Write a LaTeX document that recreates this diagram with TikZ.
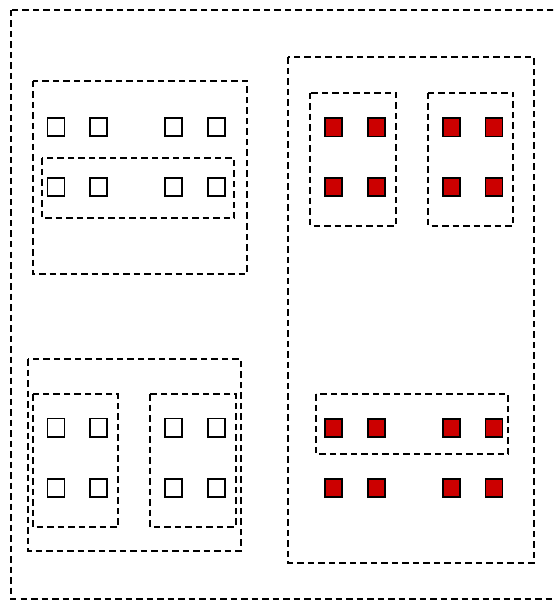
\documentclass[tikz,border=0pt]{standalone}
\usepackage{tikz}
\usetikzlibrary{positioning}
\definecolor{padred}{HTML}{CC0000}
\tikzset{>=latex}
\tikzset{pad/.style={draw=black, line width=1.7pt, fill=white,
  minimum width=17pt, minimum height=18.5pt, inner sep=0pt}}
\tikzset{redpad/.style={pad, fill=padred}}
\tikzset{group/.style={dashed, dash pattern=on 6.5pt off 4pt, line width=1.7pt}}

\begin{document}
\begin{tikzpicture}[x=1pt,y=-1pt]
  \useasboundingbox (0,0) rectangle (553,601);
  \clip (0,0) rectangle (553,601);
  % outer frame
  \draw[group] (11,10) rectangle (570,599);
  % top left
  \draw[group] (32.7,81) rectangle (246.7,274);
  \draw[group] (42,158.3) rectangle (234.3,218.3);
  % bottom left
  \draw[group] (27.7,359) rectangle (240.7,550.7);
  \draw[group] (32.7,394) rectangle (118.3,526.7);
  \draw[group] (150,394) rectangle (236,526.7);
  % right
  \draw[group] (288.3,57.3) rectangle (534.3,562.7);
  \draw[group] (310,92.7) rectangle (396,225.7);
  \draw[group] (428,92.7) rectangle (513.3,225.7);
  \draw[group] (316,394.3) rectangle (508.3,454);
  % pads
  \foreach \i/\x in {1/56,2/98.8,3/173.5,4/216.5} {
    \node[pad] (wa\i) at (\x,127) {};
    \node[pad] (wb\i) at (\x,187) {};
    \node[pad] (wc\i) at (\x,427.8) {};
    \node[pad] (wd\i) at (\x,488) {};
  }
  \foreach \i/\x in {1/333.8,2/376.7,3/451.7,4/494} {
    \node[redpad] (ra\i) at (\x,127.2) {};
    \node[redpad] (rb\i) at (\x,187) {};
    \node[redpad] (rc\i) at (\x,428) {};
    \node[redpad] (rd\i) at (\x,488) {};
  }
\end{tikzpicture}
\end{document}
